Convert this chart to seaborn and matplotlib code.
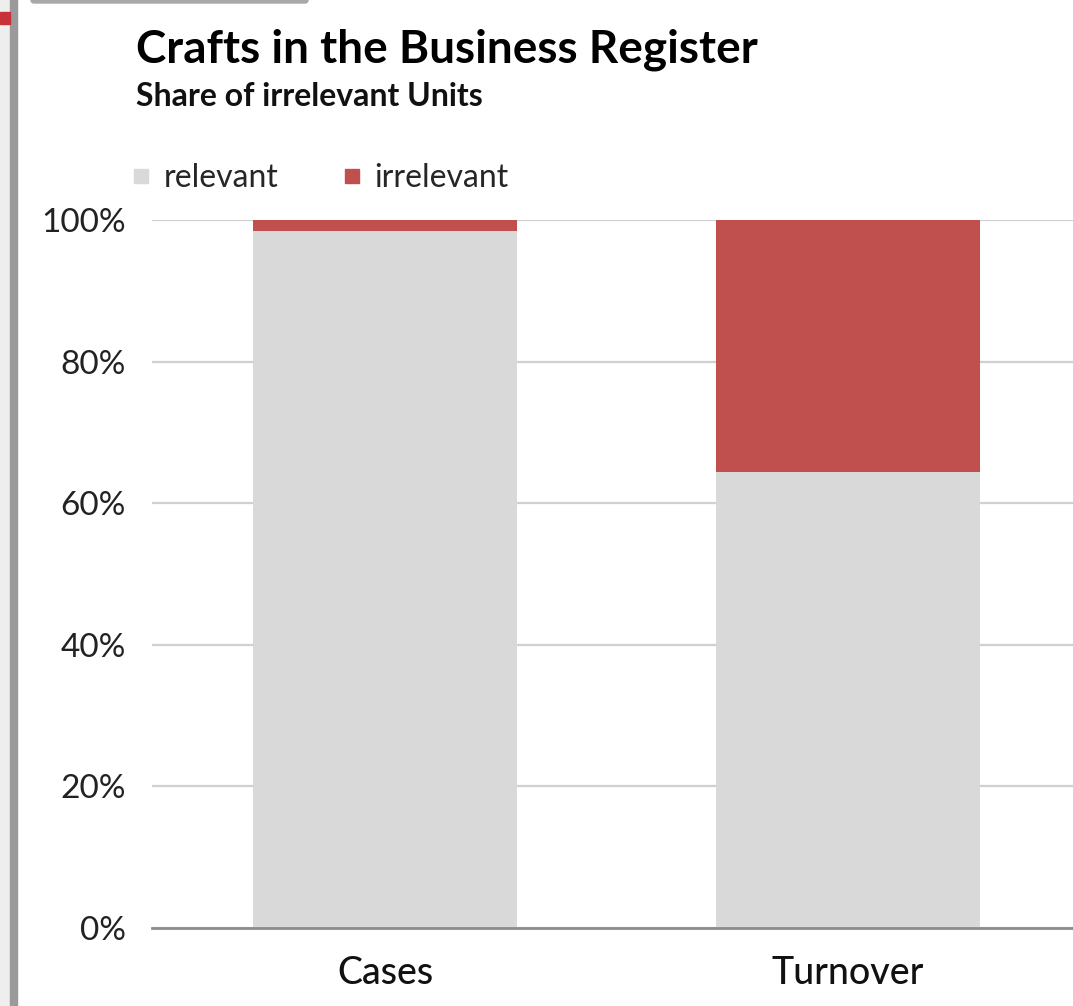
import matplotlib
matplotlib.use("Agg")
import matplotlib.pyplot as plt
from matplotlib.lines import Line2D
from matplotlib.patches import Rectangle, FancyBboxPatch
import seaborn as sns
import pandas as pd

# Data
categories = ["Cases", "Turnover"]
relevant = [98.4, 64.4]
irrelevant = [1.6, 35.6]
y_ticks = [0, 20, 40, 60, 80, 100]
tick_labels = ["0%", "20%", "40%", "60%", "80%", "100%"]

GRAY = "#d9d9d9"
RED = "#c0504d"

sns.set_theme(style="white")
plt.rcParams["font.family"] = ["Lato", "DejaVu Sans"]

df = pd.DataFrame({
    "category": categories,
    "relevant": relevant,
    "total": [r + i for r, i in zip(relevant, irrelevant)],
})

fig = plt.figure(figsize=(10.73, 10.06), dpi=100)
ax = fig.add_axes([0.1417, 0.0775, 0.8583, 0.7038])

# Stacked bars: full height in red, relevant part in gray on top of it
sns.barplot(data=df, x="category", y="total", color=RED, width=0.57,
            saturation=1, ax=ax, zorder=3, linewidth=0)
sns.barplot(data=df, x="category", y="relevant", color=GRAY, width=0.57,
            saturation=1, ax=ax, zorder=4, linewidth=0)

ax.set_xlim(-0.503, 1.486)
ax.set_ylim(0, 100)
ax.set_yticks(y_ticks)
ax.set_yticklabels(tick_labels)
ax.set_xlabel("")
ax.set_ylabel("")
ax.yaxis.grid(True, color="#d0d0d0", linewidth=1.6, zorder=0)
ax.set_axisbelow(True)
for s in ["top", "right", "left"]:
    ax.spines[s].set_visible(False)
ax.spines["bottom"].set_color("#8c8c8c")
ax.spines["bottom"].set_linewidth(2)
ax.spines["bottom"].set_zorder(5)
ax.tick_params(axis="y", length=0, pad=19, labelsize=24, labelcolor="#222222")
ax.tick_params(axis="x", length=0, pad=20, labelsize=27, labelcolor="#111111")
for lbl in ax.get_xticklabels():
    lbl.set_fontweight("medium")

# Titles
fig.text(0.127, 0.938, "Crafts in the Business Register", fontsize=33,
         fontweight="bold", color="#000000", va="baseline")
fig.text(0.127, 0.895, "Share of irrelevant Units", fontsize=23,
         fontweight="bold", color="#111111", va="baseline")

# Legend
handles = [
    Line2D([], [], marker="s", linestyle="", markersize=9.5, color=GRAY),
    Line2D([], [], marker="s", linestyle="", markersize=9.5, color=RED),
]
fig.legend(handles, ["relevant", "irrelevant"], loc="center left",
           bbox_to_anchor=(0.093, 0.823), ncol=2, frameon=False,
           fontsize=23, handlelength=0.8, handletextpad=0.3,
           columnspacing=1.9)

# Page chrome around the chart
fig.patches.append(Rectangle((0, 0), 10 / 1073, 1, transform=fig.transFigure,
                             color="#eeeeee", zorder=0))
fig.patches.append(Rectangle((10 / 1073, 0), 7 / 1073, 1, transform=fig.transFigure,
                             color="#9a9a9a", zorder=1))
fig.patches.append(Rectangle((0, 1 - 24 / 1006), 10 / 1073, 12 / 1006,
                             transform=fig.transFigure, color="#c8313a", zorder=2))
fig.patches.append(FancyBboxPatch((31 / 1073, 1 - 3 / 1006), 277 / 1073, 6 / 1006,
                                  boxstyle="round,pad=0,rounding_size=0.003",
                                  transform=fig.transFigure, color="#a8a8a8",
                                  zorder=1))

fig.savefig("out.png", dpi=100)
